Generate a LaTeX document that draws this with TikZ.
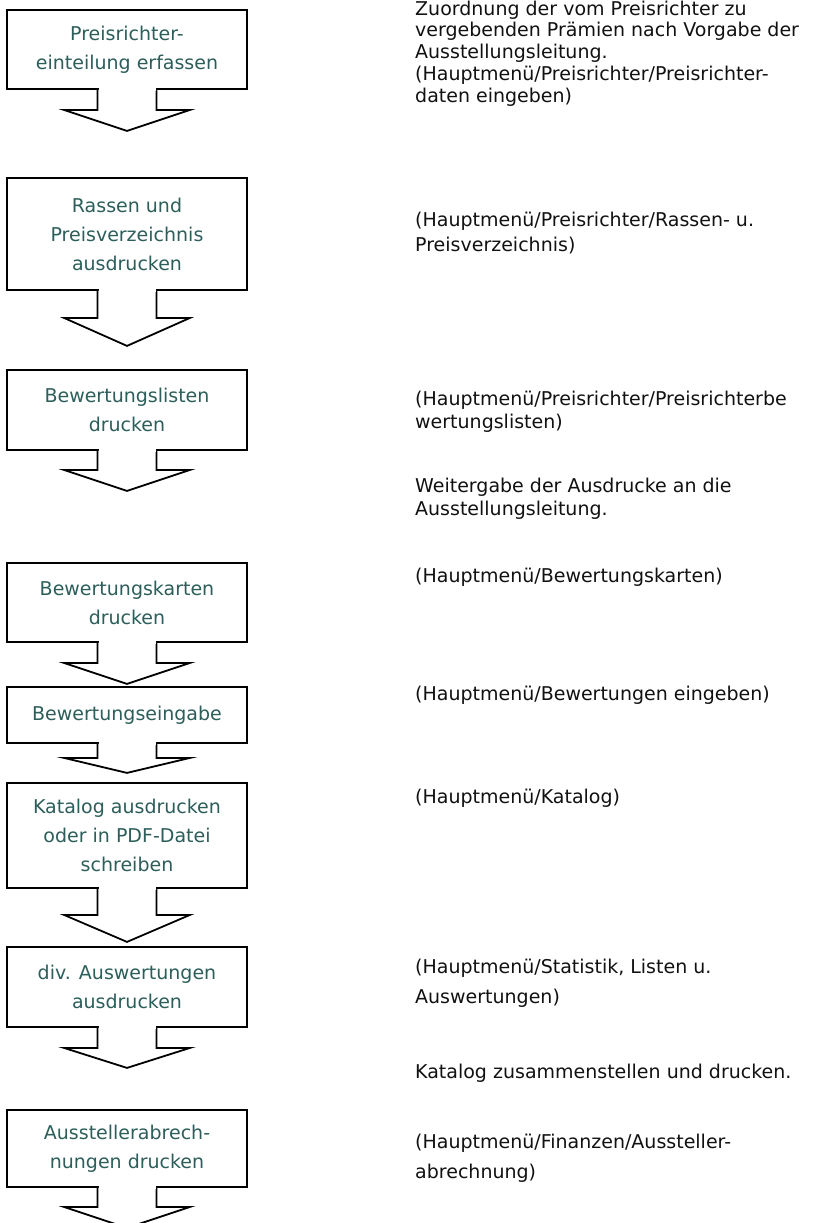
\documentclass[tikz,border=0pt]{standalone}
\usepackage{fontspec}
\setmainfont{DejaVu Sans}
\usepackage{xcolor}
\usepackage{tikz}
\usetikzlibrary{positioning}
\definecolor{boxteal}{HTML}{2C5E5A}
\definecolor{inkblack}{HTML}{111111}

\begin{document}
\begin{tikzpicture}[x=1pt, y=-1pt,
    stepbox/.style={draw=black, line width=1.8pt, fill=white, minimum width=240pt,
      inner sep=0pt, align=center, text=boxteal, font=\fontsize{19}{29}\selectfont},
    note/.style={anchor=base west, align=left, inner sep=0pt, text=inkblack},
    blockarrow/.style={draw=black, line width=1.8pt, fill=white, line join=miter}]
  % page frame (824 x 1223 px)
  \useasboundingbox (0,0) rectangle (824,1223);

  % process boxes, centred on x = 127
  \node[stepbox, minimum height=79pt]  (pr)   at (127,49.5)   {Preisrichter-\\einteilung erfassen};
  \node[stepbox, minimum height=112pt] (rv)   at (127,234)    {Rassen und\\Preisverzeichnis\\ausdrucken};
  \node[stepbox, minimum height=80pt]  (bl)   at (127,410)    {Bewertungslisten\\drucken};
  \node[stepbox, minimum height=79pt]  (bk)   at (127,602.5)  {Bewertungskarten\\drucken};
  \node[stepbox, minimum height=56pt]  (be)   at (127,715)    {Bewertungseingabe};
  \node[stepbox, minimum height=105pt] (kat)  at (127,835.5)  {Katalog ausdrucken\\oder in PDF-Datei\\schreiben};
  \node[stepbox, minimum height=80pt]  (ausw) at (127,987)    {div. Auswertungen\\ausdrucken};
  \node[stepbox, minimum height=77pt]  (abr)  at (127,1148.5) {Ausstellerabrech-\\nungen drucken};

  % block arrows hanging below each box: name / stem / head depth
  \foreach \b/\s/\h in {pr/20/21, rv/27/28, bl/19/21, bk/20/21, be/14/15,
                        kat/26/27, ausw/20/20, abr/19/21} {
    \draw[blockarrow] (\b.south) ++(-29.5,0) -- ++(0,\s) -- ++(-33.5,0)
      -- ++(63,\h) -- ++(63,-\h) -- ++(-33.5,0) -- ++(0,-\s);
    % open the box edge into the stem
    \fill[white] (\b.south) ++(-28.5,-1.5) rectangle ++(57,3);
  }

  % menu notes on the right (placed at the baseline of their last line)
  \node[note, font=\fontsize{19}{21.75}\selectfont] (n1) at (415,102)
    {Zuordnung der vom Preisrichter zu\\vergebenden Prämien nach Vorgabe der\\Ausstellungsleitung.\\(Hauptmenü/Preisrichter/Preisrichter-\\daten eingeben)};
  \node[note, font=\fontsize{19}{25}\selectfont] (n2) at (415,251)
    {(Hauptmenü/Preisrichter/Rassen- u.\\Preisverzeichnis)};
  \node[note, font=\fontsize{19}{23}\selectfont] (n3) at (415,428)
    {(Hauptmenü/Preisrichter/Preisrichterbe\\wertungslisten)};
  \node[note, font=\fontsize{19}{23}\selectfont] (n4) at (415,515)
    {Weitergabe der Ausdrucke an die\\Ausstellungsleitung.};
  \node[note, font=\fontsize{19}{23}\selectfont] (n5) at (415,582)
    {(Hauptmenü/Bewertungskarten)};
  \node[note, font=\fontsize{19}{23}\selectfont] (n6) at (415,700)
    {(Hauptmenü/Bewertungen eingeben)};
  \node[note, font=\fontsize{19}{23}\selectfont] (n7) at (415,803)
    {(Hauptmenü/Katalog)};
  \node[note, font=\fontsize{19}{30}\selectfont] (n8) at (415,1003)
    {(Hauptmenü/Statistik, Listen u.\\Auswertungen)};
  \node[note, font=\fontsize{19}{23}\selectfont] (n9) at (415,1078)
    {Katalog zusammenstellen und drucken.};
  \node[note, font=\fontsize{19}{30}\selectfont] (n10) at (415,1178)
    {(Hauptmenü/Finanzen/Aussteller-\\abrechnung)};
\end{tikzpicture}
\end{document}
